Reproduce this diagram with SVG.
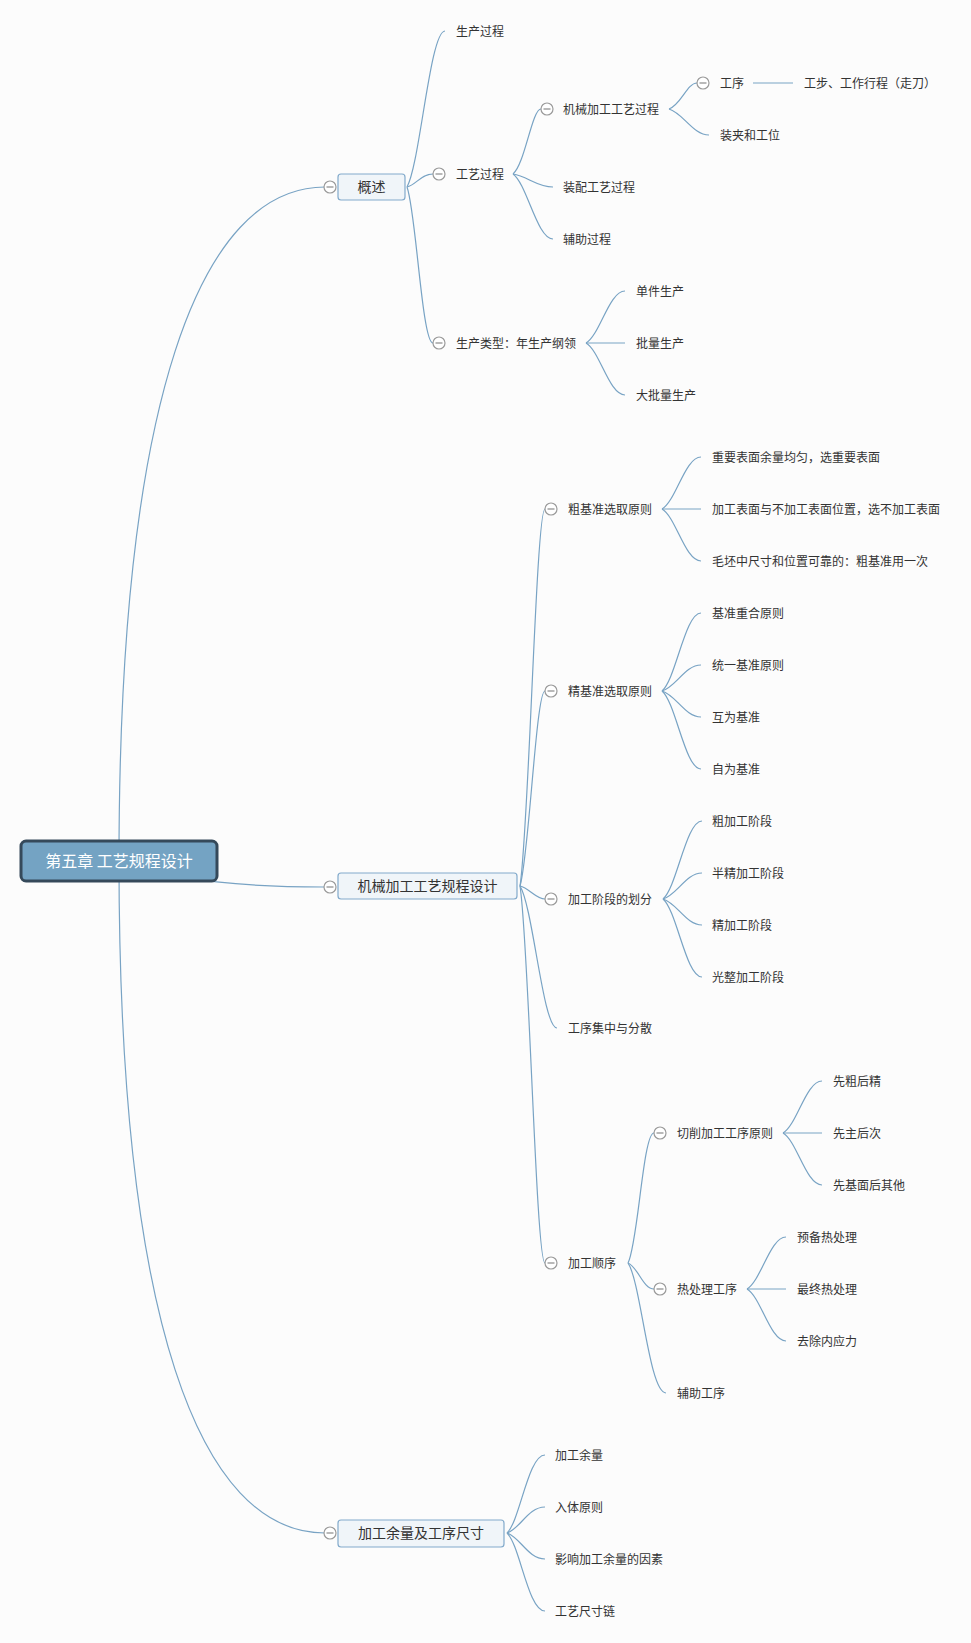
<svg xmlns="http://www.w3.org/2000/svg" width="971" height="1643" viewBox="0 0 971 1643">
<style>
.c{fill:none;stroke:#78a3c4;stroke-width:1.2}
.t{font-family:"Noto Sans CJK SC","Noto Sans",sans-serif;font-size:12px;fill:#333;dominant-baseline:central}
.m{font-family:"Noto Sans CJK SC","Noto Sans",sans-serif;font-size:14px;fill:#333;dominant-baseline:central;text-anchor:middle}
.r{font-family:"Noto Sans CJK SC","Noto Sans",sans-serif;font-size:16px;fill:#fff;dominant-baseline:central;text-anchor:middle}
.b{fill:#f0f5f9;stroke:#82aacb;stroke-width:1.2}
.k{fill:#fff;stroke:#9a9a9a;stroke-width:1.2}
.kl{stroke:#8a8a8a;stroke-width:1.2}
</style>
<defs>
<g id="col"><circle class="k" cx="0" cy="0" r="6"/><line class="kl" x1="-3.5" y1="0" x2="3.5" y2="0"/></g>
</defs>
<rect width="971" height="1643" fill="#fcfcfc"/>
<g id="connectors">
<path class="c" d="M119,861 C119,400 200,187 325,187"/>
<path class="c" d="M119,861 C180,882 250,887 324,887"/>
<path class="c" d="M119,861 C119,1322 200,1533 325,1533"/>
<path class="c" d="M407,187 C420,164 430,31 445,31"/>
<path class="c" d="M407,187 C416,185 421,174 433,174"/>
<path class="c" d="M407,187 C416,211 422,343 433,343"/>
<path class="c" d="M513,174 C525,164 532,109 541,109"/>
<path class="c" d="M513,174 C527,176 537,187 553,187"/>
<path class="c" d="M513,174 C527,184 537,239 553,239"/>
<path class="c" d="M669,109 C681,105 687,83 697,83"/>
<path class="c" d="M669,109 C683,113 693,135 709,135"/>
<line class="c" x1="753" y1="83" x2="793" y2="83"/>
<path class="c" d="M586,343 C600,335 609,291 625,291"/>
<path class="c" d="M586,343 L625,343"/>
<path class="c" d="M586,343 C600,351 609,395 625,395"/>
<path class="c" d="M520,886 C529,829 536,509 545,509"/>
<path class="c" d="M520,886 C529,857 536,691 545,691"/>
<path class="c" d="M520,886 C529,888 536,899 545,899"/>
<path class="c" d="M520,886 C533,907 543,1028 557,1028"/>
<path class="c" d="M520,886 C529,943 536,1263 545,1263"/>
<path class="c" d="M662,509 C676,501 685,457 701,457"/>
<path class="c" d="M662,509 L701,509"/>
<path class="c" d="M662,509 C676,517 685,561 701,561"/>
<path class="c" d="M662,691 C676,679 685,613 701,613"/>
<path class="c" d="M662,691 C676,687 685,665 701,665"/>
<path class="c" d="M662,691 C676,695 685,717 701,717"/>
<path class="c" d="M662,691 C676,703 685,769 701,769"/>
<path class="c" d="M663,899 C677,887 686,821 702,821"/>
<path class="c" d="M663,899 C677,895 686,873 702,873"/>
<path class="c" d="M663,899 C677,903 686,925 702,925"/>
<path class="c" d="M663,899 C677,911 686,977 702,977"/>
<path class="c" d="M628,1263 C638,1244 643,1133 654,1133"/>
<path class="c" d="M628,1263 C638,1267 643,1289 654,1289"/>
<path class="c" d="M628,1263 C641,1282 649,1393 666,1393"/>
<path class="c" d="M783,1133 C797,1125 806,1081 822,1081"/>
<path class="c" d="M783,1133 L822,1133"/>
<path class="c" d="M783,1133 C797,1141 806,1185 822,1185"/>
<path class="c" d="M747,1289 C761,1281 770,1237 786,1237"/>
<path class="c" d="M747,1289 L786,1289"/>
<path class="c" d="M747,1289 C761,1297 770,1341 786,1341"/>
<path class="c" d="M507,1533 C520,1521 528,1455 545,1455"/>
<path class="c" d="M507,1533 C520,1529 528,1507 545,1507"/>
<path class="c" d="M507,1533 C520,1537 528,1559 545,1559"/>
<path class="c" d="M507,1533 C520,1545 528,1611 545,1611"/>
</g>
<g id="root">
<rect x="21" y="841" width="196" height="40" rx="5" fill="#74a3c3" stroke="#35495a" stroke-width="3"/>
<text class="r" x="119" y="860">第五章 工艺规程设计</text>
</g>
<g id="n-gaishu">
<rect class="b" x="338" y="174" width="67" height="26" rx="3"/>
<text class="m" x="371.5" y="186">概述</text>
<use href="#col" x="330" y="187"/>
</g>
<g id="n-jxsj">
<rect class="b" x="338" y="873" width="179" height="26" rx="3"/>
<text class="m" x="427.5" y="885">机械加工工艺规程设计</text>
<use href="#col" x="330" y="887"/>
</g>
<g id="n-jgyl">
<rect class="b" x="338" y="1520" width="166" height="27" rx="3"/>
<text class="m" x="421" y="1532">加工余量及工序尺寸</text>
<use href="#col" x="330" y="1533"/>
</g>
<g id="n-scgc"><text class="t" x="456" y="30">生产过程</text></g>
<g id="n-gygc"><use href="#col" x="439" y="174"/><text class="t" x="456" y="173">工艺过程</text></g>
<g id="n-sclx"><use href="#col" x="439" y="343"/><text class="t" x="456" y="342">生产类型：年生产纲领</text></g>
<g id="n-jxgygc"><use href="#col" x="547" y="109"/><text class="t" x="563" y="108">机械加工工艺过程</text></g>
<g id="n-zpgygc"><text class="t" x="563" y="186">装配工艺过程</text></g>
<g id="n-fzgc"><text class="t" x="563" y="238">辅助过程</text></g>
<g id="n-gx"><use href="#col" x="703" y="83"/><text class="t" x="720" y="82">工序</text></g>
<g id="n-gb"><text class="t" x="804" y="82">工步、工作行程（走刀）</text></g>
<g id="n-zjgw"><text class="t" x="720" y="134">装夹和工位</text></g>
<g id="n-djsc"><text class="t" x="636" y="290">单件生产</text></g>
<g id="n-plsc"><text class="t" x="636" y="342">批量生产</text></g>
<g id="n-dplsc"><text class="t" x="636" y="394">大批量生产</text></g>
<g id="n-cjz"><use href="#col" x="551" y="509"/><text class="t" x="568" y="508">粗基准选取原则</text></g>
<g id="n-cjz1"><text class="t" x="712" y="456">重要表面余量均匀，选重要表面</text></g>
<g id="n-cjz2"><text class="t" x="712" y="508">加工表面与不加工表面位置，选不加工表面</text></g>
<g id="n-cjz3"><text class="t" x="712" y="560">毛坯中尺寸和位置可靠的：粗基准用一次</text></g>
<g id="n-jjz"><use href="#col" x="551" y="691"/><text class="t" x="568" y="690">精基准选取原则</text></g>
<g id="n-jjz1"><text class="t" x="712" y="612">基准重合原则</text></g>
<g id="n-jjz2"><text class="t" x="712" y="664">统一基准原则</text></g>
<g id="n-jjz3"><text class="t" x="712" y="716">互为基准</text></g>
<g id="n-jjz4"><text class="t" x="712" y="768">自为基准</text></g>
<g id="n-jdhf"><use href="#col" x="551" y="899"/><text class="t" x="568" y="898">加工阶段的划分</text></g>
<g id="n-jd1"><text class="t" x="712" y="820">粗加工阶段</text></g>
<g id="n-jd2"><text class="t" x="712" y="872">半精加工阶段</text></g>
<g id="n-jd3"><text class="t" x="712" y="924">精加工阶段</text></g>
<g id="n-jd4"><text class="t" x="712" y="976">光整加工阶段</text></g>
<g id="n-gxjz"><text class="t" x="568" y="1027">工序集中与分散</text></g>
<g id="n-jgsx"><use href="#col" x="551" y="1263"/><text class="t" x="568" y="1262">加工顺序</text></g>
<g id="n-qx"><use href="#col" x="660" y="1133"/><text class="t" x="677" y="1132">切削加工工序原则</text></g>
<g id="n-qx1"><text class="t" x="833" y="1080">先粗后精</text></g>
<g id="n-qx2"><text class="t" x="833" y="1132">先主后次</text></g>
<g id="n-qx3"><text class="t" x="833" y="1184">先基面后其他</text></g>
<g id="n-rcl"><use href="#col" x="660" y="1289"/><text class="t" x="677" y="1288">热处理工序</text></g>
<g id="n-rcl1"><text class="t" x="797" y="1236">预备热处理</text></g>
<g id="n-rcl2"><text class="t" x="797" y="1288">最终热处理</text></g>
<g id="n-rcl3"><text class="t" x="797" y="1340">去除内应力</text></g>
<g id="n-fzgx"><text class="t" x="677" y="1392">辅助工序</text></g>
<g id="n-yl1"><text class="t" x="555" y="1454">加工余量</text></g>
<g id="n-yl2"><text class="t" x="555" y="1506">入体原则</text></g>
<g id="n-yl3"><text class="t" x="555" y="1558">影响加工余量的因素</text></g>
<g id="n-yl4"><text class="t" x="555" y="1610">工艺尺寸链</text></g>
</svg>
